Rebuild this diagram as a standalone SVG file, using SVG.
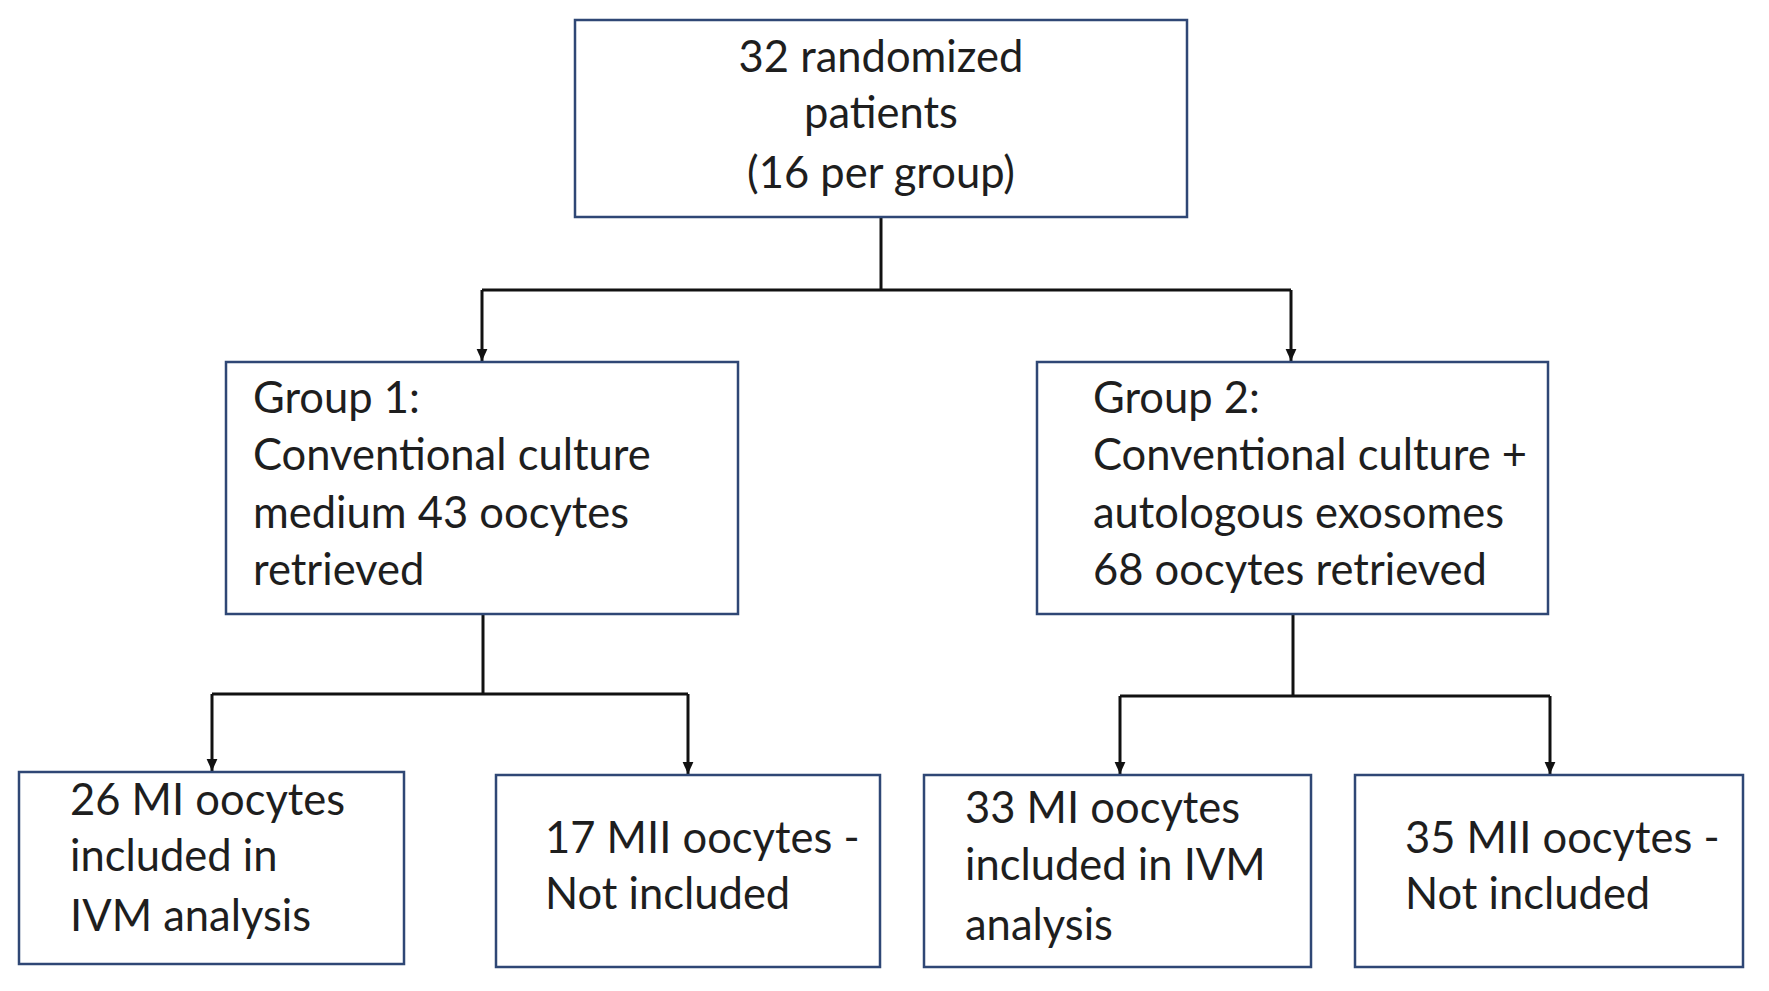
<svg xmlns="http://www.w3.org/2000/svg" width="1769" height="991" viewBox="0 0 1769 991">
<style>
.box{fill:#fff;stroke:#2f4775;stroke-width:2.5}
.t{font-family:Lato,"Liberation Sans",sans-serif;font-size:43.5px;fill:#1e1e1e}
.c{text-anchor:middle}
.ln{fill:none;stroke:#111;stroke-width:3}
</style>
<defs>
<marker id="ar" markerWidth="12" markerHeight="12" refX="10" refY="5" orient="auto" markerUnits="userSpaceOnUse" viewBox="0 0 10 10">
<path d="M0,0.5 L10,5 L0,9.5 Z" fill="#111"/>
</marker>
</defs>
<rect width="1769" height="991" fill="#fff"/>
<g id="connectors">
<path class="ln" d="M881,217 V290"/>
<path class="ln" d="M482,290 H1291"/>
<path class="ln" d="M482,290 V361" marker-end="url(#ar)"/>
<path class="ln" d="M1291,290 V361" marker-end="url(#ar)"/>
<path class="ln" d="M483,614 V694"/>
<path class="ln" d="M212,694 H688"/>
<path class="ln" d="M212,694 V771" marker-end="url(#ar)"/>
<path class="ln" d="M688,694 V774" marker-end="url(#ar)"/>
<path class="ln" d="M1293,614 V696"/>
<path class="ln" d="M1120,696 H1550"/>
<path class="ln" d="M1120,696 V774" marker-end="url(#ar)"/>
<path class="ln" d="M1550,696 V774" marker-end="url(#ar)"/>
</g>
<g id="n_top">
<rect class="box" x="575" y="20" width="612" height="197"/>
<text class="t c" x="881" y="72">32 randomized</text>
<text class="t c" x="881" y="128">patients</text>
<text class="t c" x="881" y="188">(16 per group)</text>
</g>
<g id="n_g1">
<rect class="box" x="226" y="362" width="512" height="252"/>
<text class="t" x="253" y="413">Group 1:</text>
<text class="t" x="253" y="470">Conventional culture</text>
<text class="t" x="253" y="528">medium 43 oocytes</text>
<text class="t" x="253" y="585">retrieved</text>
</g>
<g id="n_g2">
<rect class="box" x="1037" y="362" width="511" height="252"/>
<text class="t" x="1093" y="413">Group 2:</text>
<text class="t" x="1093" y="470">Conventional culture +</text>
<text class="t" x="1093" y="528">autologous exosomes</text>
<text class="t" x="1093" y="585">68 oocytes retrieved</text>
</g>
<g id="n_a">
<rect class="box" x="19" y="772" width="385" height="192"/>
<text class="t" x="70" y="815">26 MI oocytes</text>
<text class="t" x="70" y="871">included in</text>
<text class="t" x="70" y="931">IVM analysis</text>
</g>
<g id="n_b">
<rect class="box" x="496" y="775" width="384" height="192"/>
<text class="t" x="545" y="853">17 MII oocytes -</text>
<text class="t" x="545" y="909">Not included</text>
</g>
<g id="n_c">
<rect class="box" x="924" y="775" width="387" height="192"/>
<text class="t" x="965" y="823">33 MI oocytes</text>
<text class="t" x="965" y="880">included in IVM</text>
<text class="t" x="965" y="940">analysis</text>
</g>
<g id="n_d">
<rect class="box" x="1355" y="775" width="388" height="192"/>
<text class="t" x="1405" y="853">35 MII oocytes -</text>
<text class="t" x="1405" y="909">Not included</text>
</g>
</svg>
